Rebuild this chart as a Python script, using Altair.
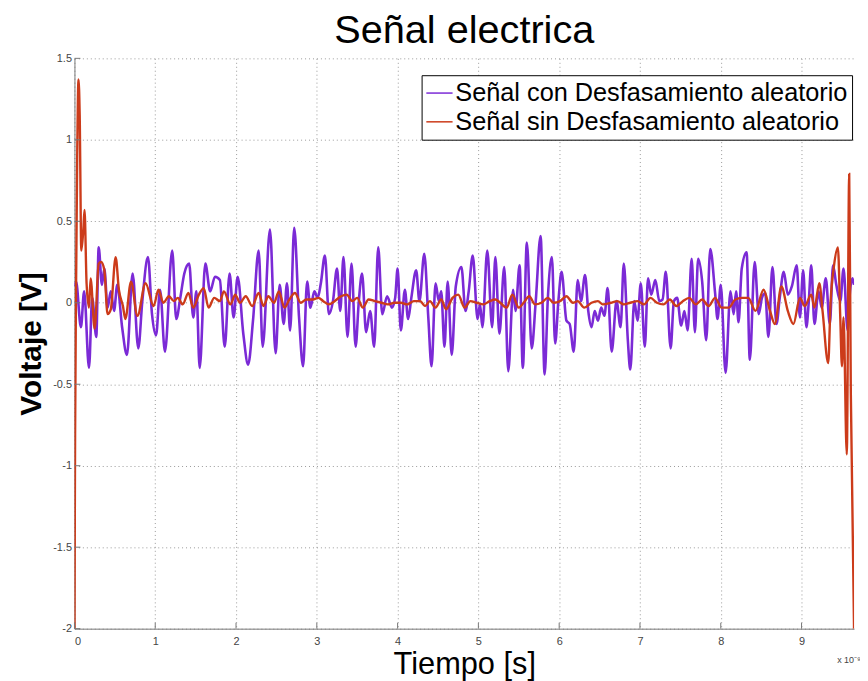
import altair as alt
import pandas as pd

# ---------------- data ----------------
purple_label = "Señal con Desfasamiento aleatorio"
red_label = "Señal sin Desfasamiento aleatorio"

purple_x = [0.00, 0.02, 0.08, 0.12, 0.18, 0.22, 0.27, 0.30, 0.34, 0.37, 0.41, 0.45, 0.49, 0.53,
            0.59, 0.65, 0.72, 0.79, 0.84, 0.91, 0.96, 1.01, 1.06, 1.12, 1.21, 1.26, 1.31, 1.36,
            1.42, 1.47, 1.51, 1.55, 1.62, 1.68, 1.74, 1.80, 1.86, 1.92, 1.97, 2.02, 2.09, 2.15,
            2.21, 2.28, 2.33, 2.42, 2.49, 2.54, 2.59, 2.63, 2.67, 2.72, 2.78, 2.83, 2.88, 2.92,
            2.97, 3.01, 3.05, 3.10, 3.15, 3.20, 3.25, 3.29, 3.33, 3.38, 3.43, 3.48, 3.52, 3.56,
            3.61, 3.66, 3.71, 3.76, 3.81, 3.87, 3.93, 3.97, 4.00, 4.04, 4.09, 4.13, 4.17, 4.23,
            4.27, 4.33, 4.38, 4.42, 4.47, 4.51, 4.54, 4.58, 4.62, 4.67, 4.72, 4.79, 4.84, 4.88,
            4.93, 4.99, 5.02, 5.05, 5.11, 5.17, 5.21, 5.26, 5.32, 5.37, 5.43, 5.46, 5.51, 5.55,
            5.60, 5.66, 5.71, 5.77, 5.82, 5.86, 5.91, 5.95, 5.99, 6.03, 6.09, 6.13, 6.18, 6.23,
            6.27, 6.32, 6.36, 6.40, 6.44, 6.48, 6.52, 6.56, 6.60, 6.65, 6.71, 6.76, 6.80, 6.85,
            6.88, 6.93, 6.97, 7.01, 7.06, 7.10, 7.14, 7.19, 7.24, 7.28, 7.32, 7.38, 7.42, 7.46,
            7.51, 7.55, 7.59, 7.64, 7.68, 7.72, 7.77, 7.82, 7.87, 7.93, 7.96, 8.00, 8.06, 8.12,
            8.16, 8.19, 8.22, 8.26, 8.32, 8.36, 8.42, 8.47, 8.51, 8.55, 8.59, 8.64, 8.69, 8.73,
            8.78, 8.83, 8.88, 8.94, 8.98, 9.02, 9.06, 9.09, 9.12, 9.16, 9.21, 9.25, 9.30, 9.35,
            9.39, 9.43, 9.48, 9.52, 9.57, 9.60, 9.63, 9.65]
purple_y = [0.10, 0.13, -0.15, 0.07, -0.40, 0.03, -0.21, 0.34, 0.11, 0.21, -0.03, 0.07, -0.05, 0.11,
            -0.15, -0.32, 0.18, -0.28, 0.01, 0.28, -0.07, -0.20, 0.08, -0.30, 0.32, -0.10, 0.03, 0.18,
            0.24, -0.09, 0.07, -0.40, 0.24, 0.07, 0.16, 0.14, -0.27, 0.18, -0.09, 0.16, -0.19, -0.38,
            -0.11, 0.32, -0.27, 0.45, -0.31, 0.11, -0.13, 0.12, -0.17, 0.46, -0.09, -0.39, 0.13, -0.03,
            0.07, 0.03, 0.12, 0.29, -0.07, 0.01, 0.21, -0.05, 0.28, -0.21, 0.24, -0.27, 0.01, 0.18,
            -0.18, -0.05, -0.27, 0.34, -0.07, 0.04, -0.03, 0.03, 0.21, -0.17, 0.08, -0.10, 0.03, 0.20,
            0.01, 0.30, -0.09, -0.39, 0.12, 0.01, 0.07, -0.27, 0.13, -0.32, 0.10, 0.22, -0.05, 0.07,
            0.29, -0.10, -0.01, -0.15, 0.32, -0.15, 0.28, -0.19, 0.22, -0.42, 0.08, -0.05, 0.23, -0.40,
            0.37, -0.28, 0.01, 0.41, -0.44, 0.03, 0.28, -0.25, 0.01, 0.19, -0.11, -0.13, -0.30, 0.14,
            0.01, 0.17, -0.05, -0.15, -0.05, -0.11, -0.03, -0.08, 0.09, -0.30, 0.01, -0.15, 0.24, -0.23,
            -0.41, 0.01, -0.11, 0.12, -0.27, 0.15, 0.05, 0.14, 0.01, 0.02, 0.19, -0.28, 0.01, 0.03,
            -0.14, -0.05, -0.17, 0.27, -0.18, 0.27, 0.13, -0.23, 0.33, 0.06, -0.10, 0.11, -0.43, 0.07,
            -0.07, 0.07, -0.12, 0.21, 0.31, -0.35, 0.25, -0.07, 0.03, 0.06, -0.21, 0.22, -0.13, 0.03,
            0.19, 0.05, 0.10, 0.23, -0.09, 0.20, -0.15, 0.01, 0.23, -0.13, 0.07, -0.03, 0.15, -0.13,
            0.23, 0.11, 0.01, 0.21, -0.17, 0.07, 0.15, 0.11]

red_x = [0.000, 0.008, 0.020, 0.035, 0.050, 0.065, 0.085, 0.110, 0.125, 0.150, 0.180, 0.200,
         0.250, 0.300, 0.330, 0.370, 0.410, 0.450, 0.510, 0.550, 0.600, 0.630, 0.700, 0.780,
         0.880, 0.980, 1.040, 1.100, 1.170, 1.230, 1.280, 1.340, 1.410, 1.470, 1.540, 1.600,
         1.660, 1.730, 1.800, 1.850, 1.930, 1.990, 2.050, 2.120, 2.200, 2.280, 2.340, 2.400,
         2.470, 2.530, 2.600, 2.660, 2.730, 2.800, 2.870, 2.950, 3.020, 3.080, 3.150, 3.220,
         3.300, 3.370, 3.440, 3.500, 3.570, 3.640, 3.720, 3.800, 3.880, 3.960, 4.040, 4.120,
         4.200, 4.280, 4.340, 4.400, 4.470, 4.540, 4.600, 4.680, 4.750, 4.830, 4.900, 4.980,
         5.060, 5.140, 5.210, 5.270, 5.350, 5.420, 5.500, 5.560, 5.630, 5.700, 5.780, 5.860,
         5.930, 6.010, 6.090, 6.170, 6.230, 6.310, 6.400, 6.480, 6.540, 6.640, 6.720, 6.800,
         6.880, 6.970, 7.050, 7.130, 7.210, 7.290, 7.370, 7.450, 7.530, 7.610, 7.690, 7.770,
         7.850, 7.930, 8.010, 8.100, 8.180, 8.260, 8.340, 8.430, 8.530, 8.610, 8.670, 8.750,
         8.830, 8.900, 8.980, 9.040, 9.120, 9.160, 9.220, 9.260, 9.330, 9.360, 9.400, 9.450,
         9.480, 9.500, 9.520, 9.560, 9.590, 9.610, 9.650]
red_y = [-2.00, -0.80, 0.10, 0.95, 1.37, 1.15, 0.32, 0.45, 0.57, 0.12, -0.03, 0.15,
         -0.16, 0.24, 0.25, 0.20, -0.07, -0.04, 0.28, 0.08, -0.02, -0.10, 0.13, -0.08,
         0.12, -0.02, 0.08, 0.00, 0.04, 0.01, 0.03, -0.01, 0.06, -0.03, 0.05, 0.09,
         -0.03, 0.03, 0.01, 0.07, -0.01, 0.05, 0.00, 0.04, -0.02, 0.06, -0.02, 0.04,
         0.00, 0.07, -0.03, 0.02, 0.06, 0.00, 0.02, 0.02, 0.03, 0.01, -0.01, 0.01,
         0.04, 0.05, 0.01, 0.03, -0.03, 0.02, 0.01, 0.00, -0.01, 0.00, 0.00, -0.01,
         0.01, 0.01, -0.02, 0.01, -0.03, 0.02, -0.04, 0.03, 0.05, -0.03, 0.01, 0.00,
         -0.01, 0.01, 0.02, 0.00, -0.03, 0.05, -0.03, 0.00, 0.04, -0.01, 0.00, 0.03,
         0.00, 0.01, 0.04, 0.00, 0.01, -0.03, 0.00, 0.01, -0.01, 0.00, 0.01, -0.01,
         0.00, 0.01, -0.01, 0.03, 0.00, -0.01, 0.02, -0.02, 0.01, 0.03, -0.01, 0.02,
         -0.02, 0.03, -0.03, -0.03, 0.02, 0.03, 0.03, -0.05, 0.08, -0.05, -0.13, 0.10,
         -0.05, -0.13, 0.03, -0.02, 0.05, -0.03, 0.12, -0.05, -0.37, 0.01, 0.22, 0.34,
         -0.10, -0.39, -0.09, -0.93, 0.79, -0.55, -2.00]

x_ticks = [0, 1, 2, 3, 4, 5, 6, 7, 8, 9]
y_ticks = [-2, -1.5, -1, -0.5, 0, 0.5, 1, 1.5]
exp_label = ["x 10⁻⁹"]

# ---------------- chart ----------------
W, H = 786, 575
FONT = "Liberation Sans"
purple = "#7b2ad6"
red = "#cc3b1a"

df_p = pd.DataFrame({"t": purple_x, "v": purple_y, "s": purple_label})
df_r = pd.DataFrame({"t": red_x, "v": red_y, "s": red_label})

xscale = alt.Scale(domain=[0, 9.65], nice=False, zero=False)
yscale = alt.Scale(domain=[-2, 1.5], nice=False, zero=False)
cscale = alt.Scale(domain=[purple_label, red_label], range=[purple, red])

x_axis = alt.Axis(values=x_ticks, title="Tiempo [s]", titleFontSize=31,
                  titleFontWeight="normal", titleColor="black", titleFont=FONT,
                  titlePadding=3, labelFontSize=11, labelColor="#444", labelFont=FONT,
                  labelPadding=7, ticks=False, grid=True, gridColor="#999",
                  gridDash=[1, 3], domainColor="#777", labelExpr="datum.value + ''")
y_axis = alt.Axis(values=y_ticks, title="Voltaje [V]", titleFontSize=30,
                  titleFontWeight="bold", titleColor="black", titleFont=FONT,
                  titlePadding=6, labelFontSize=11, labelColor="#444", labelFont=FONT,
                  labelPadding=3, ticks=False, grid=True, gridColor="#999",
                  gridDash=[1, 3], domainColor="#777", labelExpr="datum.value + ''")
legend = alt.Legend(title=None, orient="none", legendX=350, legendY=17,
                    strokeColor="black", fillColor="white", padding=4,
                    symbolType="stroke", symbolSize=700, symbolStrokeWidth=1.5,
                    labelFontSize=25.5, labelFont=FONT, labelColor="black",
                    rowPadding=1, labelOffset=2, labelLimit=600)

line_p = alt.Chart(df_p).mark_line(strokeWidth=2.6, interpolate="monotone", clip=True).encode(
    x=alt.X("t:Q", scale=xscale, axis=x_axis),
    y=alt.Y("v:Q", scale=yscale, axis=y_axis),
    color=alt.Color("s:N", scale=cscale, legend=legend),
)
line_r = alt.Chart(df_r).mark_line(strokeWidth=2.4, interpolate="monotone", clip=True).encode(
    x=alt.X("t:Q", scale=xscale, axis=None),
    y=alt.Y("v:Q", scale=yscale, axis=None),
    color=alt.Color("s:N", scale=cscale, legend=legend),
)

xt = alt.Chart(pd.DataFrame({"t": x_ticks})).mark_rule(color="#777").encode(
    x=alt.X("t:Q", scale=xscale, axis=None), y=alt.value(H), y2=alt.value(H - 6))
yt = alt.Chart(pd.DataFrame({"v": y_ticks})).mark_rule(color="#777").encode(
    y=alt.Y("v:Q", scale=yscale, axis=None), x=alt.value(0), x2=alt.value(6))
expo = alt.Chart(pd.DataFrame({"e": exp_label})).mark_text(
    align="left", baseline="middle", fontSize=9, font=FONT, color="#444").encode(
    text="e:N", x=alt.value(W - 17), y=alt.value(H + 32))

chart = alt.layer(line_p, line_r, xt, yt, expo).resolve_axis(
    x="independent", y="independent"
).properties(
    width=W, height=H,
    title=alt.TitleParams("Señal electrica", fontSize=40, fontWeight="normal", font=FONT,
                          color="black", anchor="middle", offset=1),
    autosize=alt.AutoSizeParams(type="none"),
    padding={"left": 67, "top": 48, "right": 6, "bottom": 50},
).configure_view(stroke=None)

chart.save("out.html", embed_options={"renderer": "svg", "actions": False})
